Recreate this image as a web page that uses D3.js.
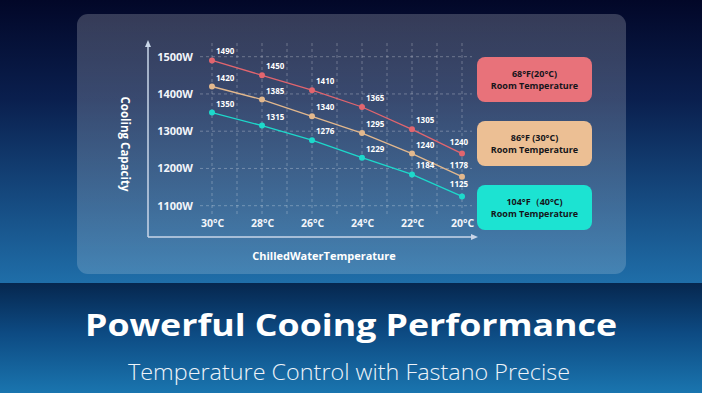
<!DOCTYPE html>
<html><head><meta charset="utf-8">
<script src="https://cdn.jsdelivr.net/npm/d3@7"></script>
<style>body{margin:0;background:#021033;overflow:hidden}svg{display:block}</style>
</head><body><svg id="c" width="702" height="393"></svg>
<script>
// ---- data ----
const categories = ["30°C","28°C","26°C","24°C","22°C","20°C"];
const room68 = [1490,1450,1410,1365,1305,1240];
const room86 = [1420,1385,1340,1295,1240,1178];
const room104 = [1350,1315,1276,1229,1184,1125];
const yTicks = [1100,1200,1300,1400,1500];
const seriesNames = ["68°F(20°C)","86°F (30°C)","104°F（40°C)"];
const legendSub = "Room Temperature";
const xTitle = "ChilledWaterTemperature";
const yTitle = "Cooling Capacity";
const title = "Powerful Cooing Performance";
const subtitle = "Temperature Control with Fastano Precise";

const colors = ["#e8727a","#ecbf94","#1ce3d2"];
const lineColors = ["#e2656e","#e3b88d","#1dd9cb"];
const seriesData = [room68, room86, room104];

const svg = d3.select("#c");
const W = 702, H = 393;
const defs = svg.append("defs");
const g1 = defs.append("linearGradient").attr("id","bgTop").attr("x1",0).attr("y1",0).attr("x2",0).attr("y2",1);
g1.append("stop").attr("offset","0%").attr("stop-color","#020728");
g1.append("stop").attr("offset","35%").attr("stop-color","#0a1f4e");
g1.append("stop").attr("offset","100%").attr("stop-color","#1f6ea9");
const g2 = defs.append("linearGradient").attr("id","bgBot").attr("x1",0).attr("y1",0).attr("x2",0).attr("y2",1);
g2.append("stop").attr("offset","0%").attr("stop-color","#06274f");
g2.append("stop").attr("offset","45%").attr("stop-color","#0d4a82");
g2.append("stop").attr("offset","100%").attr("stop-color","#1a75af");
const g3 = defs.append("linearGradient").attr("id","panel").attr("x1",0).attr("y1",0).attr("x2",0).attr("y2",1);
g3.append("stop").attr("offset","0%").attr("stop-color","#ffffff").attr("stop-opacity",0.2);
g3.append("stop").attr("offset","100%").attr("stop-color","#ffffff").attr("stop-opacity",0.17);

svg.append("rect").attr("width",W).attr("height",283).attr("fill","url(#bgTop)");
svg.append("rect").attr("y",283).attr("width",W).attr("height",H-283).attr("fill","url(#bgBot)");
svg.append("rect").attr("x",77).attr("y",14).attr("width",549).attr("height",260).attr("rx",11).attr("fill","url(#panel)");

const font = "'Open Sans', 'DejaVu Sans', sans-serif";

const x = d3.scalePoint().domain(categories).range([212,462]);
const y = d3.scaleLinear().domain([1100,1500]).range([205.7,56.7]);

// grid
const grid = svg.append("g").attr("stroke","#ffffff").attr("stroke-opacity",0.28).attr("stroke-dasharray","3,3").attr("stroke-width",1);
const vx = [];
categories.forEach((c,i)=>{ vx.push(x(c)); if(i<categories.length-1) vx.push((x(c)+x(categories[i+1]))/2); });
grid.selectAll("line.v").data(vx).join("line").attr("x1",d=>d).attr("x2",d=>d).attr("y1",43).attr("y2",216);
grid.selectAll("line.h").data(yTicks).join("line").attr("x1",200).attr("x2",472).attr("y1",d=>y(d)).attr("y2",d=>y(d));

// axes lines with arrows
const axisCol = "#c9d6e8";
svg.append("line").attr("x1",148).attr("x2",148).attr("y1",46).attr("y2",237).attr("stroke",axisCol).attr("stroke-width",1.5);
svg.append("path").attr("d","M148,40 L151,47 L145,47 Z").attr("fill",axisCol);
svg.append("line").attr("x1",148).attr("x2",472).attr("y1",237).attr("y2",237).attr("stroke",axisCol).attr("stroke-width",1.5);
svg.append("path").attr("d","M478,237 L471,234 L471,240 Z").attr("fill",axisCol);

// tick labels
const ya = svg.append("g").attr("transform","translate(196,0)")
  .call(d3.axisLeft(y).tickValues(yTicks).tickFormat(d=>d+"W").tickSize(0).tickPadding(3));
ya.select(".domain").remove();
ya.selectAll("text").attr("fill","#f2f5fa").attr("font-family",font).attr("font-weight",700).attr("font-size",11);
const xa = svg.append("g").attr("transform","translate(0,216)")
  .call(d3.axisBottom(x).tickSize(0).tickPadding(4));
xa.select(".domain").remove();
xa.selectAll("text").attr("fill","#f2f5fa").attr("font-family",font).attr("font-weight",700).attr("font-size",10.5);

// axis titles
svg.append("text").attr("x",324).attr("y",260).attr("text-anchor","middle").attr("fill","#ffffff")
  .attr("font-family",font).attr("font-weight",700).attr("font-size",11).text(xTitle);
svg.append("text").attr("transform","translate(121,144) rotate(90)").attr("text-anchor","middle").attr("fill","#ffffff")
  .attr("font-family",font).attr("font-weight",700).attr("font-size",11.5).text(yTitle);

// lines + points + labels
const line = d3.line().x((d,i)=>x(categories[i])).y(d=>y(d));
seriesData.forEach((s,k)=>{
  svg.append("path").datum(s).attr("d",line).attr("fill","none").attr("stroke",lineColors[k]).attr("stroke-width",1.3);
  svg.append("g").selectAll("circle").data(s).join("circle")
    .attr("cx",(d,i)=>x(categories[i])).attr("cy",d=>y(d)).attr("r",3).attr("fill",lineColors[k]);
  svg.append("g").selectAll("text").data(s).join("text")
    .attr("x",(d,i)=> i===s.length-1 ? x(categories[i])-3 : x(categories[i])+4)
    .attr("y",(d,i)=> y(d) - (i===s.length-1 ? 9 : 6))
    .attr("text-anchor",(d,i)=> i===s.length-1 ? "middle" : "start")
    .attr("fill","#ffffff").attr("font-family",font).attr("font-weight",700).attr("font-size",8)
    .text(d=>d);
});

// legend boxes
const lg = svg.append("g").selectAll("g").data(seriesNames).join("g")
  .attr("transform",(d,i)=>`translate(477,${57+i*64})`);
lg.append("rect").attr("width",115).attr("height",45).attr("rx",8).attr("fill",(d,i)=>colors[i]);
lg.append("text").attr("x",57.5).attr("y",20).attr("text-anchor","middle").attr("fill","#15151a")
  .attr("font-family",font).attr("font-weight",700).attr("font-size",9).text(d=>d);
lg.append("text").attr("x",57.5).attr("y",31.5).attr("text-anchor","middle").attr("fill","#15151a")
  .attr("font-family",font).attr("font-weight",700).attr("font-size",9).text(legendSub);

// titles
svg.append("text").attr("x",351).attr("y",336).attr("text-anchor","middle").attr("fill","#ffffff")
  .attr("font-family",font).attr("font-weight",700).attr("font-size",30)
  .attr("textLength",532).attr("lengthAdjust","spacingAndGlyphs").text(title);
svg.append("text").attr("x",349).attr("y",380).attr("text-anchor","middle").attr("fill","#eef3f9")
  .attr("font-family","'Open Sans', sans-serif").attr("font-weight",300).attr("font-size",21.5)
  .attr("textLength",442).attr("lengthAdjust","spacingAndGlyphs").text(subtitle);
</script></body></html>
